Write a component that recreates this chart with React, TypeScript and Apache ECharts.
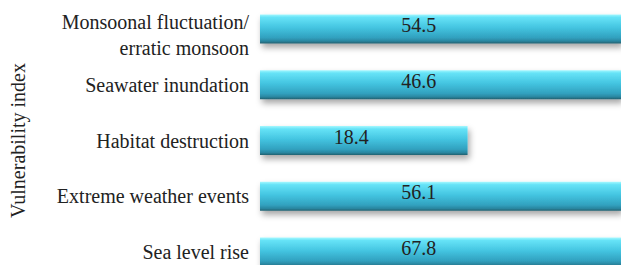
import React, { useEffect, useRef } from "react";
import * as echarts from "echarts";

const categories = [
  "Monsoonal fluctuation/\nerratic monsoon",
  "Seawater inundation",
  "Habitat destruction",
  "Extreme weather events",
  "Sea level rise",
];
const values = [54.5, 46.6, 18.4, 56.1, 67.8];
const axisTitle = "Vulnerability index";

export default function App() {
  const ref = useRef<HTMLDivElement>(null);
  useEffect(() => {
    if (!ref.current) return;
    const chart = echarts.init(ref.current, undefined, { renderer: "svg" });
    const serif = "Times New Roman, Times, Liberation Serif, DejaVu Serif, serif";
    const barGradient = new echarts.graphic.LinearGradient(0, 0, 0, 1, [
      { offset: 0, color: "#a4f8ff" },
      { offset: 0.1, color: "#66e3f7" },
      { offset: 0.45, color: "#44c5e1" },
      { offset: 0.8, color: "#31a1bf" },
      { offset: 0.92, color: "#2a86a0" },
      { offset: 1, color: "#22606f" },
    ]);
    chart.setOption({
      animation: false,
      textStyle: { fontFamily: serif },
      grid: {
        left: 260,
        right: 0,
        top: 1,
        height: 279,
        containLabel: false,
        outerBoundsMode: "none",
      },
      xAxis: { type: "value", min: 0, max: 32, show: false },
      yAxis: {
        type: "category",
        inverse: true,
        data: categories,
        axisLine: { show: false },
        axisTick: { show: false },
        splitLine: { show: false },
        axisLabel: {
          fontFamily: serif,
          fontSize: 20,
          color: "#222",
          margin: 11,
          lineHeight: 26,
          align: "right",
          formatter: (value: string) => {
            const lines = value.split("\n");
            if (lines.length < 2) return value;
            return ["{pad| }", ...lines.map((l) => `{m|${l}}`)].join("\n");
          },
          rich: {
            pad: { lineHeight: 12, fontSize: 10 },
            m: { lineHeight: 26, fontSize: 20, fontFamily: serif, color: "#222" },
          },
        },
        name: axisTitle,
        nameLocation: "middle",
        nameRotate: 90,
        nameGap: 232,
        nameTextStyle: { fontFamily: serif, fontSize: 20, color: "#222" },
      },
      series: [
        {
          type: "bar",
          data: values,
          barWidth: 29,
          clip: true,
          itemStyle: {
            color: barGradient,
            shadowBlur: 6,
            shadowColor: "rgba(0,0,0,0.35)",
            shadowOffsetX: 2,
            shadowOffsetY: 4,
          },
          label: {
            show: true,
            position: ["44%", "50%"],
            align: "center",
            verticalAlign: "middle",
            offset: [0, -4],
            fontFamily: serif,
            fontSize: 20,
            color: "#222",
          },
        },
      ],
    });
    return () => chart.dispose();
  }, []);
  return (
    <div
      ref={ref}
      style={{ position: "fixed", left: 0, top: 0, width: 621, height: 265, background: "#fff" }}
    />
  );
}
